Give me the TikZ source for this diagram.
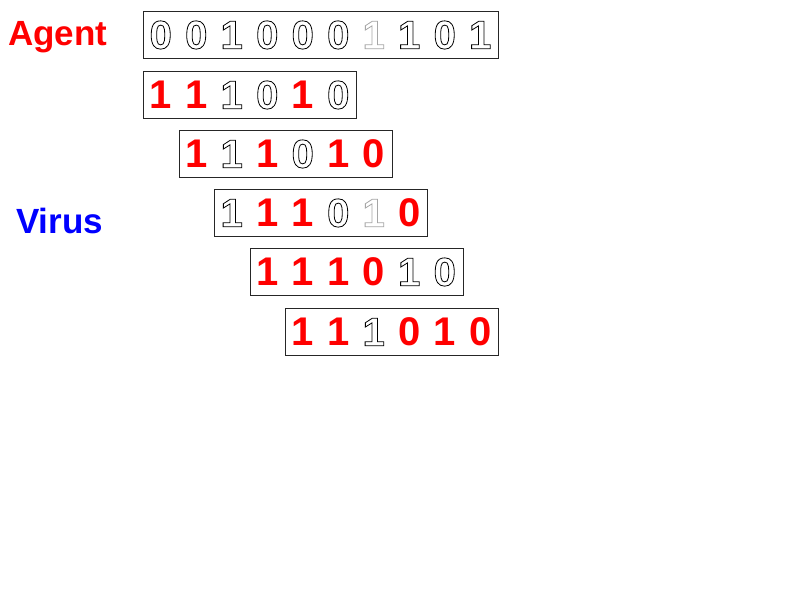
\documentclass[tikz,border=0pt]{standalone}
\usepackage{fontspec}
\setmainfont{Liberation Sans}
\newcommand{\mkon}[1]{#1}
\newcommand{\mkoff}[1]{\special{pdf:literal direct 1 Tr 0.8 w}#1\special{pdf:literal direct 0 Tr}}
\newcommand{\mkdim}[1]{\special{pdf:literal direct 1 Tr 0.8 w}#1\special{pdf:literal direct 0 Tr}}
\begin{document}
\begin{tikzpicture}[x=1pt,y=-1pt,
  bitbox/.style={draw=black!85,line width=0.9pt,minimum height=47pt,inner sep=0pt,anchor=north west},
  bit/.style={font=\bfseries\fontsize{40}{40}\selectfont,inner sep=0pt,anchor=center},
  on/.style={bit,text=red},
  off/.style={bit,text=black},
  dim/.style={bit,text=black!35},
  lbl/.style={font=\bfseries\fontsize{35}{35}\selectfont,anchor=base west,inner sep=0pt}]
\useasboundingbox[fill=white] (0,0) rectangle (790,592);
\node[lbl,text=red] (agent) at (8,45) {Agent};
\node[lbl,text=blue] (virus) at (16,233) {Virus};
\foreach \r/\lx/\ty/\n/\bits in {
 0/143/11/10/{off/0,off/0,off/1,off/0,off/0,off/0,dim/1,off/1,off/0,off/1},
 1/143/71/6/{on/1,on/1,off/1,off/0,on/1,off/0},
 2/178.5/130/6/{on/1,off/1,on/1,off/0,on/1,on/0},
 3/214/189/6/{off/1,on/1,on/1,off/0,dim/1,on/0},
 4/249.5/248/6/{on/1,on/1,on/1,on/0,off/1,off/0},
 5/285/308/6/{on/1,on/1,off/1,on/0,on/1,on/0}}
{
  \node[bitbox,minimum width=\n*35.5pt] (box\r) at (\lx,\ty) {};
  \foreach \s/\d [count=\i from 0] in \bits
    \node[\s] (d\r-\i) at (\lx+\i*35.5+17.75,\ty+24) {\csname mk\s\endcsname{\d}};
}
\end{tikzpicture}
\end{document}
